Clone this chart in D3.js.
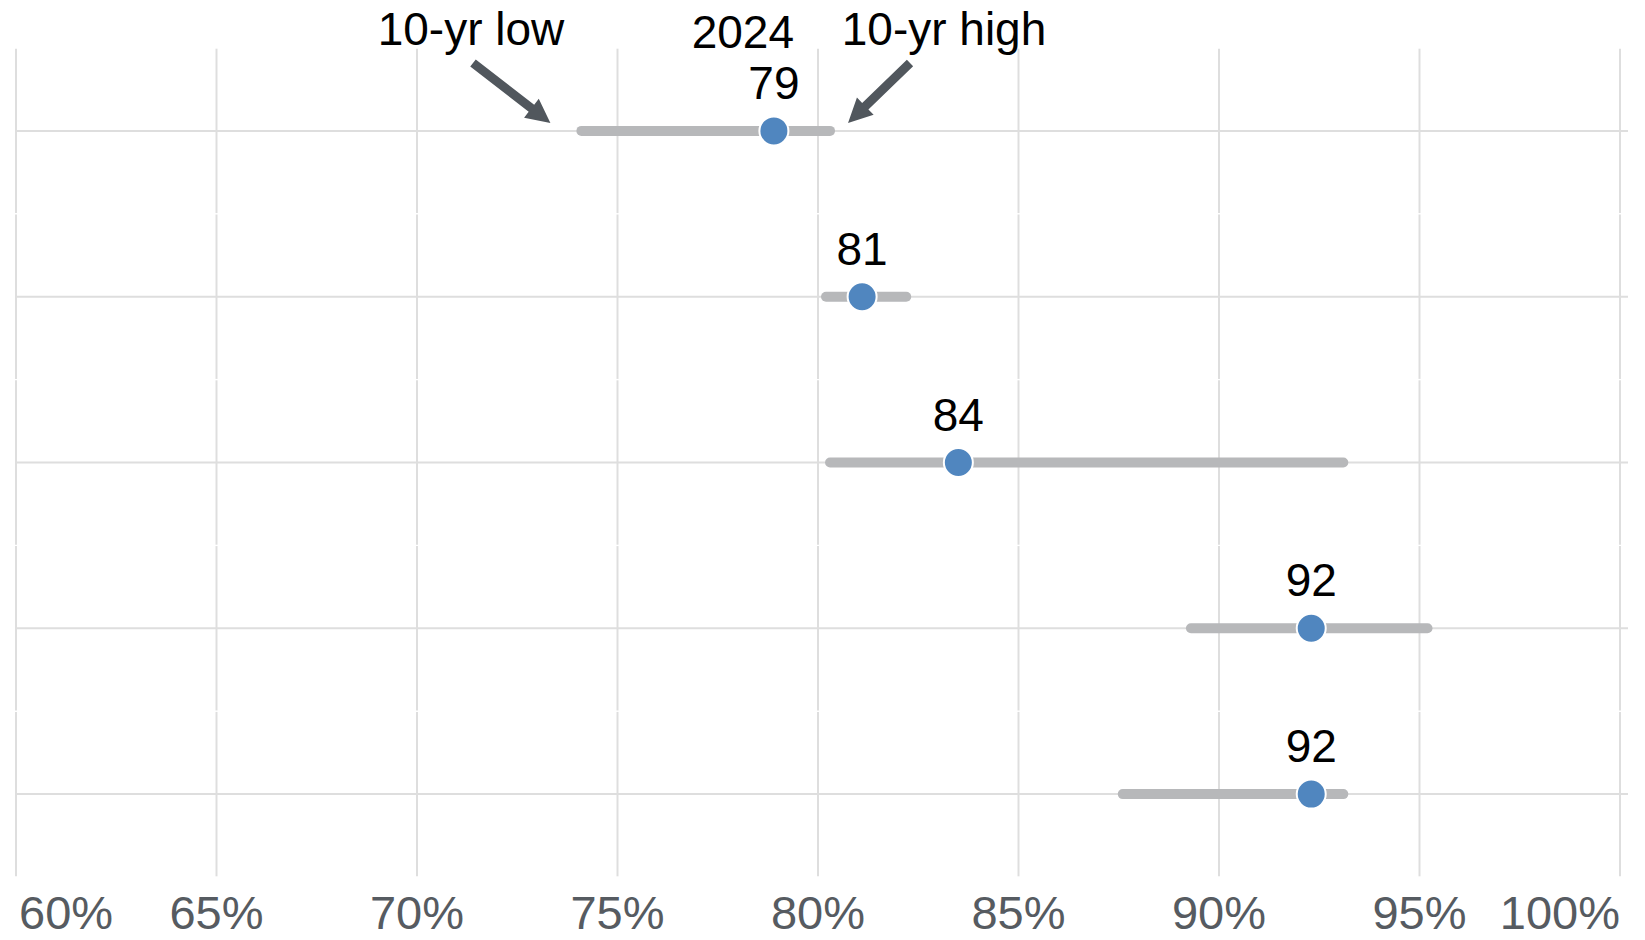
<!DOCTYPE html>
<html>
<head>
<meta charset="utf-8">
<script src="https://cdn.jsdelivr.net/npm/d3@7"></script>
<style>
  html, body { margin: 0; padding: 0; background: #fff; }
  svg { display: block; }
  text { font-family: "Liberation Sans", Arial, sans-serif; }
</style>
</head>
<body>
<svg id="chart" width="1645" height="940"></svg>
<script>
// ---- data ----
const rows = ["r1", "r2", "r3", "r4", "r5"];
const lowValues = [74.1, 80.2, 80.3, 89.3, 87.6];
const highValues = [80.3, 82.2, 93.1, 95.2, 93.1];
const currentValues = [78.9, 81.1, 83.5, 92.3, 92.3];
const valueLabels = ["79", "81", "84", "92", "92"];
const tickValues = [60, 65, 70, 75, 80, 85, 90, 95, 100];
const tickLabels = ["60%", "65%", "70%", "75%", "80%", "85%", "90%", "95%", "100%"];
const annotationLow = "10-yr low";
const annotationYear = "2024";
const annotationHigh = "10-yr high";

const data = rows.map((r, i) => ({
  row: r, low: lowValues[i], high: highValues[i], value: currentValues[i], label: valueLabels[i]
}));

const svg = d3.select("#chart");
const x = d3.scaleLinear().domain([60, 100]).range([16, 1620]);
const y = d3.scaleBand().domain(rows).range([48, 877]).paddingInner(0).paddingOuter(0);
const yc = r => y(r) + y.bandwidth() / 2;

const grid = svg.append("g");
// vertical gridlines, drawn per row band (tiny gaps between bands)
rows.forEach(r => {
  grid.selectAll(null).data(tickValues).enter().append("line")
    .attr("x1", d => x(d)).attr("x2", d => x(d))
    .attr("y1", y(r) + 0.7).attr("y2", y(r) + y.bandwidth() - 0.7)
    .attr("stroke", "#dedede").attr("stroke-width", 2);
});
// horizontal gridlines at row centers
grid.selectAll(null).data(rows).enter().append("line")
  .attr("x1", x(60)).attr("x2", x(100) + 8)
  .attr("y1", d => yc(d)).attr("y2", d => yc(d))
  .attr("stroke", "#dedede").attr("stroke-width", 2);

// x axis labels
const axisG = svg.append("g");
axisG.selectAll(null).data(tickValues).enter().append("text")
  .attr("x", (d, i) => i === 0 ? x(d) + 3 : x(d))
  .attr("y", 929)
  .attr("text-anchor", (d, i) => i === 0 ? "start" : (i === tickValues.length - 1 ? "end" : "middle"))
  .attr("font-size", 47)
  .attr("fill", "#565b61")
  .text((d, i) => tickLabels[i]);

// range lines
svg.append("g").selectAll(null).data(data).enter().append("line")
  .attr("x1", d => x(d.low)).attr("x2", d => x(d.high))
  .attr("y1", d => yc(d.row)).attr("y2", d => yc(d.row))
  .attr("stroke", "#b7b8ba").attr("stroke-width", 10).attr("stroke-linecap", "round");

// dots
svg.append("g").selectAll(null).data(data).enter().append("circle")
  .attr("cx", d => x(d.value)).attr("cy", d => yc(d.row))
  .attr("r", 14.5)
  .attr("fill", "#5086bf").attr("stroke", "#fff").attr("stroke-width", 2);

// value labels
svg.append("g").selectAll(null).data(data).enter().append("text")
  .attr("x", d => x(d.value)).attr("y", d => yc(d.row) - 32)
  .attr("text-anchor", "middle").attr("font-size", 46).attr("fill", "#000")
  .text(d => d.label);

// annotations
const first = data[0];
const ann = svg.append("g");
ann.append("text").attr("x", 471).attr("y", 45).attr("text-anchor", "middle")
  .attr("font-size", 46).attr("fill", "#000").text(annotationLow);
ann.append("text").attr("x", x(first.value) - 31).attr("y", 48).attr("text-anchor", "middle")
  .attr("font-size", 46).attr("fill", "#000").text(annotationYear);
ann.append("text").attr("x", 944).attr("y", 45).attr("text-anchor", "middle")
  .attr("font-size", 46).attr("fill", "#000").text(annotationHigh);

const arrowColor = "#51575d";
const yRow1 = yc(first.row);
function arrow(x0, y0, tipX, tipY) {
  const dx = tipX - x0, dy = tipY - y0, len = Math.hypot(dx, dy);
  const ux = dx / len, uy = dy / len;
  const headLen = 24, headHalf = 12, shaftHalf = 4.5;
  const bx = tipX - ux * headLen, by = tipY - uy * headLen;
  const px = -uy, py = ux;
  const pts = [
    [x0 + px * shaftHalf, y0 + py * shaftHalf],
    [bx + px * shaftHalf, by + py * shaftHalf],
    [bx + px * headHalf, by + py * headHalf],
    [tipX, tipY],
    [bx - px * headHalf, by - py * headHalf],
    [bx - px * shaftHalf, by - py * shaftHalf],
    [x0 - px * shaftHalf, y0 - py * shaftHalf]
  ];
  ann.append("path").attr("d", d3.line()(pts) + "Z").attr("fill", arrowColor);
}
arrow(473, 63, x(first.low) - 31, yRow1 - 8);
arrow(910, 63, x(first.high) + 18, yRow1 - 8);
</script>
</body>
</html>
